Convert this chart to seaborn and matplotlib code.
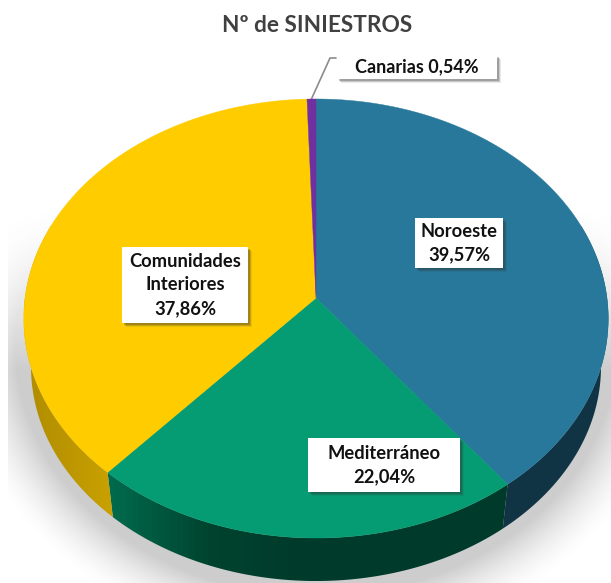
import numpy as np
import matplotlib
matplotlib.use("Agg")
import matplotlib.pyplot as plt
import seaborn as sns
from matplotlib.patches import Polygon, Rectangle

# Data
regions = ['Noroeste', 'Mediterráneo', 'Comunidades\nInteriores', 'Canarias']
shares = [39.57, 22.04, 37.86, 0.54]
share_labels = ['39,57%', '22,04%', '37,86%', '0,54%']
colors = ['#27789a', '#059c73', '#ffcc00', '#7030a0']
# side colours, left to right
side_colors = [['#113445', '#113445'], ['#006a4d', '#00432f', '#003a2a', '#003a2a', '#003a2a'],
               ['#b08c00', '#c9a100'], ['#4a2070', '#4a2070']]

sns.set_theme(style="white")
plt.rcParams['font.family'] = ['Lato', 'DejaVu Sans']

# pixel layout of the tilted pie (perspective of a flat disc)
hub_x, hub_y = 316, 298
scale_x, scale_y, tilt = 291, 217.6, 0.0934
rim_drop, rim_scale = 49, 0.975


def project(x, y, drop=0, k=1.0):
    d = 1 + tilt * y
    return np.column_stack([hub_x + k * scale_x * x / d, hub_y + drop - k * scale_y * y / d])


fig = plt.figure(figsize=(6.11, 5.83), dpi=100)
ax = fig.add_axes([0, 0, 1, 1])

wedges, _ = ax.pie(shares, colors=colors, startangle=90, counterclock=False, radius=1)
for w, c in zip(wedges, colors):
    t = np.radians(np.linspace(w.theta1, w.theta2, 150))
    xs = np.concatenate([[0], np.cos(t)])
    ys = np.concatenate([[0], np.sin(t)])
    ax.add_patch(Polygon(project(xs, ys), closed=True, facecolor=c, edgecolor=c, lw=0.3, zorder=3))
    w.remove()

# soft shadow behind the pie
gx, gy = np.meshgrid(np.arange(611) + 0.5, np.arange(583) + 0.5)
dist = np.sqrt(((gx - 316) / 310) ** 2 + ((gy - 345) / 258) ** 2)
shade = np.clip((1.17 - dist) / 0.2, 0, 1) ** 1.6 * 0.3
shade[gx < 8] = 0
shade *= np.clip((gy - 200) / 170, 0, 1) ** 1.5
rgba = np.zeros((583, 611, 4))
rgba[..., :3] = 0.35
rgba[..., 3] = shade
ax.imshow(rgba, extent=(0, 611, 583, 0), aspect='auto', zorder=0)

# side of the pie, one strip per slice
edges = np.cumsum([0] + shares) / sum(shares) * 360
for i in range(len(shares)):
    a0, a1 = max(edges[i], 70), min(edges[i + 1], 290)
    if a1 <= a0:
        continue
    a = np.radians(np.linspace(a0, a1, 120))
    top = project(np.sin(a), np.cos(a))
    low = project(np.sin(a), np.cos(a), rim_drop, rim_scale)
    poly = np.vstack([top, low[::-1]])
    cmap = sns.blend_palette(side_colors[i], as_cmap=True)
    x0, x1 = poly[:, 0].min(), poly[:, 0].max()
    y0, y1 = poly[:, 1].min(), poly[:, 1].max()
    im = ax.imshow(np.linspace(0, 1, 64)[None, :], cmap=cmap, extent=(x0, x1, y1, y0),
                   aspect='auto', zorder=2)
    clip = Polygon(poly, closed=True, facecolor='none', edgecolor='none', transform=ax.transData)
    ax.add_patch(clip)
    im.set_clip_path(clip)

ax.set_aspect('auto')
ax.set_xlim(0, 611)
ax.set_ylim(583, 0)
ax.axis('off')


def label_box(x0, y0, x1, y1, text, size=13.2):
    for off, alpha in [(4, 0.10), (3, 0.18), (2, 0.28)]:
        ax.add_patch(Rectangle((x0 + off, y0 + off), x1 - x0, y1 - y0, facecolor='#333333',
                               edgecolor='none', alpha=alpha, zorder=4))
    ax.add_patch(Rectangle((x0, y0), x1 - x0, y1 - y0, facecolor='white', edgecolor='none', zorder=5))
    ax.text((x0 + x1) / 2, (y0 + y1) / 2, text, ha='center', va='center', fontsize=size,
            fontweight='bold', color='#111111', linespacing=1.45, zorder=6)


label_box(415, 218, 503, 268, f'{regions[0]}\n{share_labels[0]}')
label_box(308, 438, 460, 492, f'{regions[1]}\n{share_labels[1]}')
label_box(122, 247, 248, 323, f'{regions[2]}\n{share_labels[2]}')
label_box(337, 55, 497, 79, f'{regions[3]} {share_labels[3]}', size=13)

# leader line for the small slice
ax.plot([311, 330, 336], [100, 58, 58], color='#8c8c8c', lw=1.2, zorder=2)

ax.text(317, 26, 'Nº de SINIESTROS', ha='center', va='center', fontsize=16.3,
        fontweight='bold', color='#404040')

fig.savefig('out.png', dpi=100)
